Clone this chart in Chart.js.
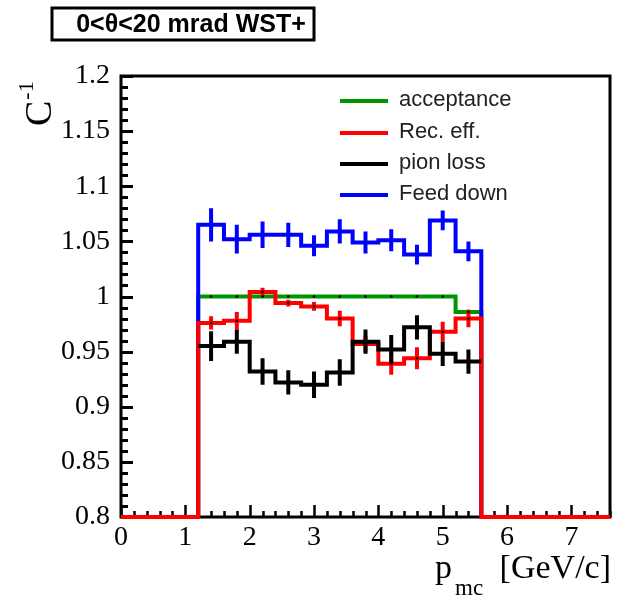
<!DOCTYPE html>
<html>
<head>
<meta charset="utf-8">
<script src="https://cdn.jsdelivr.net/npm/chart.js@4.4.1/dist/chart.umd.min.js"></script>
<style>
  html, body { margin: 0; padding: 0; background: #fff; }
  canvas { display: block; }
</style>
</head>
<body>
<canvas id="c" width="638" height="598"></canvas>
<script>
// bin edges (GeV/c) - 11 bins of 0.4
const binEdges = [1.2, 1.6, 2.0, 2.4, 2.8, 3.2, 3.6, 4.0, 4.4, 4.8, 5.2, 5.6];

// C^-1 per bin
const acceptance = [1.0, 1.0, 1.0, 1.0, 1.0, 1.0, 1.0, 1.0, 1.0, 1.0, 0.986];
const accErr     = [0.001, 0.001, 0.001, 0.001, 0.001, 0.001, 0.001, 0.001, 0.001, 0.001, 0.002];
const recEff     = [0.976, 0.978, 1.004, 0.994, 0.991, 0.980, 0.957, 0.939, 0.944, 0.968, 0.980];
const recErr     = [0.006, 0.008, 0.004, 0.003, 0.004, 0.007, 0.0075, 0.010, 0.010, 0.009, 0.008];
const pionLoss   = [0.955, 0.959, 0.932, 0.922, 0.920, 0.931, 0.959, 0.952, 0.972, 0.948, 0.941];
const pionErr    = [0.0135, 0.011, 0.012, 0.011, 0.012, 0.012, 0.011, 0.013, 0.011, 0.011, 0.011];
const feedDown   = [1.065, 1.052, 1.056, 1.056, 1.046, 1.059, 1.049, 1.051, 1.038, 1.069, 1.041];
const feedErr    = [0.015, 0.013, 0.012, 0.011, 0.0095, 0.011, 0.010, 0.010, 0.009, 0.009, 0.009];

// axes
const xMin = 0, xMax = 7.6;
const yMin = 0.8, yMax = 1.2;
const xTicks = [0, 1, 2, 3, 4, 5, 6, 7];
const yTicks = [0.8, 0.85, 0.9, 0.95, 1, 1.05, 1.1, 1.15, 1.2];

const legendNames = ["acceptance", "Rec. eff.", "pion loss", "Feed down"];
const GREEN = "#009600", RED = "#ff0000", BLACK = "#000000", BLUE = "#0000ff";
const LW = 4;

// histogram outline as stepped points
function histPoints(vals, drop, full) {
  const pts = [];
  if (full) pts.push({ x: xMin, y: yMin });
  if (drop) pts.push({ x: binEdges[0], y: yMin });
  vals.forEach((v, i) => pts.push({ x: binEdges[i], y: v }));
  pts.push({ x: binEdges[binEdges.length - 1], y: vals[vals.length - 1] });
  if (drop) pts.push({ x: binEdges[binEdges.length - 1], y: yMin });
  if (full) pts.push({ x: xMax, y: yMin });
  return pts;
}

function centers() {
  return binEdges.slice(0, -1).map((e, i) => (e + binEdges[i + 1]) / 2);
}

function errPoints(vals, errs) {
  const pts = [];
  const c = centers();
  vals.forEach((v, i) => {
    pts.push({ x: c[i], y: v - errs[i] });
    pts.push({ x: c[i], y: v + errs[i] });
    pts.push({ x: c[i], y: null });
  });
  return pts;
}

function markerPoints(vals) {
  const c = centers();
  return vals.map((v, i) => ({ x: c[i], y: v }));
}

function histSet(label, vals, color, order, drop, full) {
  return {
    label, data: histPoints(vals, drop, full), borderColor: color, borderWidth: LW,
    stepped: "before", pointRadius: 0, fill: false, order, clip: 3,
    borderCapStyle: "butt", borderJoinStyle: "miter"
  };
}

function errSet(vals, errs, color, order) {
  return {
    data: errPoints(vals, errs), borderColor: color, borderWidth: LW,
    pointRadius: 0, spanGaps: false, fill: false, order, clip: 3,
    borderCapStyle: "butt"
  };
}

function markSet(vals, order) {
  return {
    data: markerPoints(vals), showLine: false, pointRadius: 1.3,
    pointBackgroundColor: "#000", pointBorderWidth: 0, order
  };
}

const datasets = [
  histSet(legendNames[0], acceptance, GREEN, 9, true, false),
  errSet(acceptance, accErr, GREEN, 9),
  histSet(legendNames[3], feedDown, BLUE, 8, true, false),
  errSet(feedDown, feedErr, BLUE, 8),
  histSet(legendNames[1], recEff, RED, 6, true, true),
  errSet(recEff, recErr, RED, 6),
  histSet(legendNames[2], pionLoss, BLACK, 5, false, false),
  errSet(pionLoss, pionErr, BLACK, 5),
  markSet(acceptance, 4),
  markSet(recEff, 4)
];

// frame, inner ticks, titles, legend
const decorations = {
  id: "decorations",
  beforeDatasetsDraw(chart) {
    const ctx = chart.ctx;
    const a = chart.chartArea;
    const xs = chart.scales.x, ys = chart.scales.y;
    ctx.save();
    ctx.strokeStyle = "#000";
    ctx.lineWidth = 3;
    ctx.strokeRect(a.left, a.top, a.right - a.left, a.bottom - a.top);
    // y ticks inside
    ctx.lineWidth = 3;
    for (let k = 0; k <= 40; k++) {
      const v = yMin + k * 0.01;
      const y = Math.round(ys.getPixelForValue(v)) + 0.5;
      const len = k % 5 === 0 ? 12 : 7;
      ctx.beginPath();
      ctx.moveTo(a.left, y);
      ctx.lineTo(a.left + len, y);
      ctx.stroke();
    }
    // x ticks inside
    ctx.lineWidth = 2.5;
    for (let k = 0; k <= 38; k++) {
      const v = xMin + k * 0.2;
      const x = Math.round(xs.getPixelForValue(v)) + 0.5;
      const len = k % 5 === 0 ? 12 : 6;
      ctx.beginPath();
      ctx.moveTo(x, a.bottom);
      ctx.lineTo(x, a.bottom - len);
      ctx.stroke();
    }
    ctx.restore();
  },
  afterDraw(chart) {
    const ctx = chart.ctx;
    ctx.save();
    ctx.fillStyle = "#000";
    ctx.strokeStyle = "#000";

    // title box
    ctx.lineWidth = 3;
    ctx.strokeRect(52, 8, 262, 32);
    ctx.font = "bold 25px 'Liberation Sans', Arial, sans-serif";
    ctx.textAlign = "center";
    ctx.textBaseline = "middle";
    ctx.fillText("0<\u03b8<20 mrad WST+", 191, 25);

    // x axis title
    ctx.textAlign = "left";
    ctx.textBaseline = "alphabetic";
    ctx.font = "34px 'Liberation Serif', 'Times New Roman', serif";
    ctx.fillText("p", 435, 578);
    ctx.font = "23px 'Liberation Serif', 'Times New Roman', serif";
    ctx.fillText("mc", 455, 595);
    ctx.font = "34px 'Liberation Serif', 'Times New Roman', serif";
    ctx.textAlign = "right";
    ctx.fillText("[GeV/c]", 611, 578);

    // y axis title, rotated
    ctx.save();
    ctx.translate(51, 126);
    ctx.rotate(-Math.PI / 2);
    ctx.textAlign = "left";
    ctx.font = "38px 'Liberation Serif', 'Times New Roman', serif";
    ctx.fillText("C", 0, 0);
    const cw = ctx.measureText("C").width;
    ctx.font = "22px 'Liberation Serif', 'Times New Roman', serif";
    ctx.fillText("-1", cw + 1, -18);
    ctx.restore();

    // legend
    const legColors = [GREEN, RED, BLACK, BLUE];
    const legY = [101, 133, 164, 195];
    ctx.font = "22px 'Liberation Sans', Arial, sans-serif";
    ctx.textAlign = "left";
    ctx.textBaseline = "middle";
    legendNames.forEach((name, i) => {
      ctx.strokeStyle = legColors[i];
      ctx.lineWidth = LW;
      ctx.beginPath();
      ctx.moveTo(340, legY[i]);
      ctx.lineTo(388, legY[i]);
      ctx.stroke();
      ctx.fillStyle = "#222";
      ctx.fillText(name, 399, legY[i] - 1);
    });
    ctx.restore();
  }
};

const tickFont = { family: "'Liberation Serif', 'Times New Roman', serif", size: 28 };

new Chart(document.getElementById("c"), {
  type: "line",
  data: { datasets },
  options: {
    responsive: false,
    animation: false,
    devicePixelRatio: 1,
    layout: { padding: { top: 76, right: 28, left: 0, bottom: 0 } },
    plugins: { legend: { display: false }, tooltip: { enabled: false } },
    scales: {
      x: {
        type: "linear", min: xMin, max: xMax,
        grid: { display: false }, border: { display: false },
        afterBuildTicks: s => { s.ticks = xTicks.map(v => ({ value: v })); },
        afterFit: s => { s.height = 81; },
        ticks: { font: tickFont, color: "#000", padding: -4, maxRotation: 0,
                 callback: v => String(v) }
      },
      y: {
        type: "linear", min: yMin, max: yMax,
        grid: { display: false }, border: { display: false },
        afterBuildTicks: s => { s.ticks = yTicks.map(v => ({ value: v })); },
        afterFit: s => { s.width = 121; },
        ticks: { font: tickFont, color: "#000", padding: 3,
                 callback: v => String(Math.round(v * 100) / 100) }
      }
    }
  },
  plugins: [decorations]
});
</script>
</body>
</html>
